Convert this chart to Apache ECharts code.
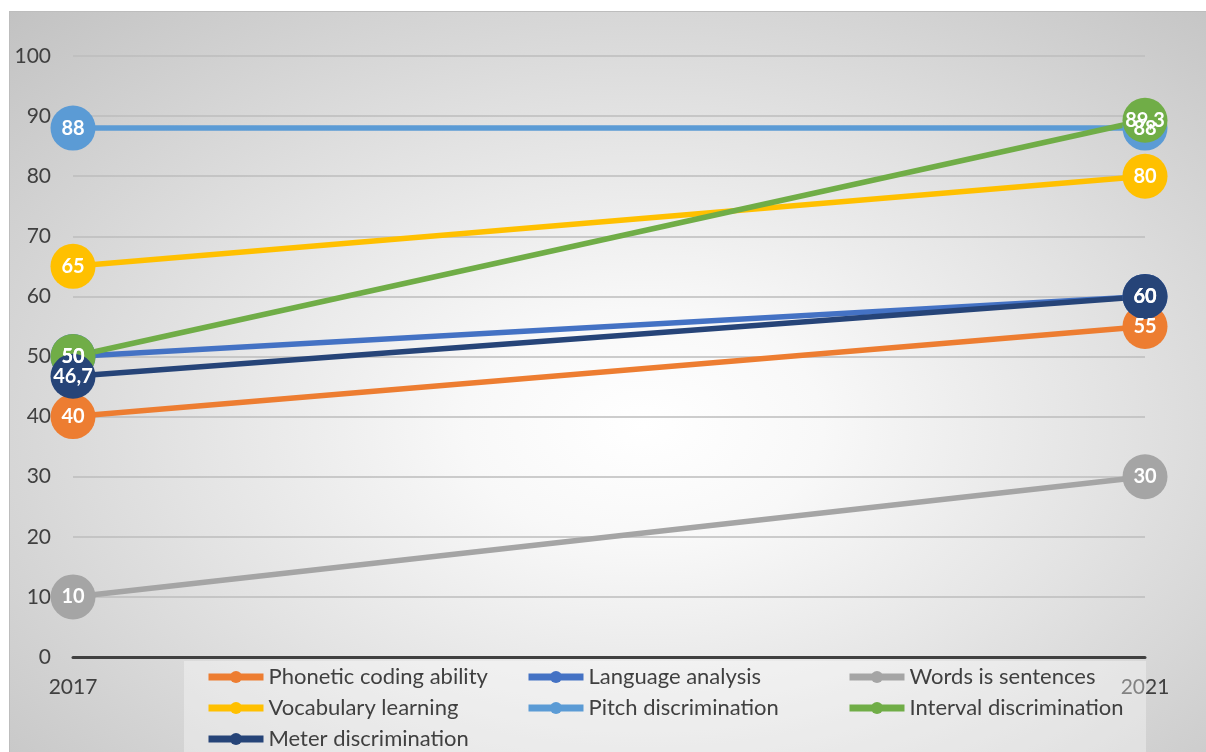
<!DOCTYPE html>
<html>
<head>
<meta charset="utf-8">
<script src="https://cdn.jsdelivr.net/npm/echarts@6/dist/echarts.min.js"></script>
<style>
  html, body { margin: 0; padding: 0; background: #ffffff; }
  #wrap { position: relative; width: 1206px; height: 752px; overflow: hidden; }
  #bg {
    position: absolute; left: 9px; top: 11px; width: 1197px; height: 741px;
    box-sizing: border-box; border-left: 1px solid #bdbdbd; border-top: 1px solid #bdbdbd;
    background: radial-gradient(ellipse farthest-corner at 53% 56%, #ffffff 0%, #f8f8f8 20%, #e3e3e3 52%, #c2c2c2 100%);
  }
  #chart { position: absolute; left: 0; top: 0; width: 1206px; height: 752px; }
</style>
</head>
<body>
<div id="wrap">
  <div id="bg"></div>
  <div id="chart"></div>
</div>
<script>
// Years on the category axis
const years = ['2017', '2021'];

// Scores per aptitude component
const phonetic = [40, 55];
const language = [50, 60];
const words = [10, 30];
const vocabulary = [65, 80];
const pitch = [88, 88];
const interval = [50, 89.3];
const meter = [46.7, 60];

const seriesNames = [
  'Phonetic coding ability', 'Language analysis', 'Words is sentences',
  'Vocabulary learning', 'Pitch discrimination', 'Interval discrimination',
  'Meter discrimination'
];
const seriesData = [phonetic, language, words, vocabulary, pitch, interval, meter];
const seriesColors = ['#ED7D31', '#4472C4', '#A5A5A5', '#FFC000', '#5B9BD5', '#70AD47', '#264478'];

const FONT = 'Lato, "Open Sans", "Liberation Sans", sans-serif';

const chart = echarts.init(document.getElementById('chart'), null, { renderer: 'canvas' });

const series = seriesNames.map((name, i) => ({
  name: name,
  type: 'line',
  data: seriesData[i],
  symbol: 'circle',
  symbolSize: 45,
  color: seriesColors[i],
  lineStyle: { width: 5.5, color: seriesColors[i] },
  itemStyle: { color: seriesColors[i] },
  label: {
    show: true,
    position: 'inside',
    color: '#ffffff',
    fontWeight: 'bold',
    fontSize: 20,
    fontFamily: FONT,
    formatter: p => String(p.value).replace('.', ',')
  },
  emphasis: { disabled: true },
  animation: false
}));

// One vertical legend per column so the three columns line up
function legendCol(left, names) {
  return {
    orient: 'vertical',
    left: left,
    top: 666,
    padding: 0,
    itemWidth: 55,
    itemHeight: 15,
    itemGap: 9,
    data: names,
    selectedMode: false,
    lineStyle: { width: 7 },
    textStyle: { fontSize: 22, color: '#404040', fontFamily: FONT },
    z: 5
  };
}

chart.setOption({
  backgroundColor: 'transparent',
  animation: false,
  grid: { left: 73, right: 61, top: 56, bottom: 95, containLabel: false },
  xAxis: {
    type: 'category',
    data: years,
    boundaryGap: false,
    axisLine: { show: true, lineStyle: { color: '#404040', width: 3 } },
    axisTick: { show: false },
    axisLabel: { margin: 20, fontSize: 21, color: '#404040', fontFamily: FONT },
    splitLine: { show: false }
  },
  yAxis: {
    type: 'value',
    min: 0,
    max: 100,
    interval: 10,
    axisLine: { show: false },
    axisTick: { show: false },
    axisLabel: { margin: 22, fontSize: 21, color: '#404040', fontFamily: FONT },
    splitLine: { lineStyle: { color: '#bcbcbc', width: 1.5 } }
  },
  graphic: [{
    type: 'rect',
    shape: { x: 184, y: 661, width: 962, height: 91 },
    style: { fill: 'rgba(255,255,255,0.35)' },
    z: 3,
    silent: true
  }],
  legend: [
    legendCol(205, ['Phonetic coding ability', 'Vocabulary learning', 'Meter discrimination']),
    legendCol(525, ['Language analysis', 'Pitch discrimination']),
    legendCol(846, ['Words is sentences', 'Interval discrimination'])
  ],
  series: series
});
</script>
</body>
</html>
